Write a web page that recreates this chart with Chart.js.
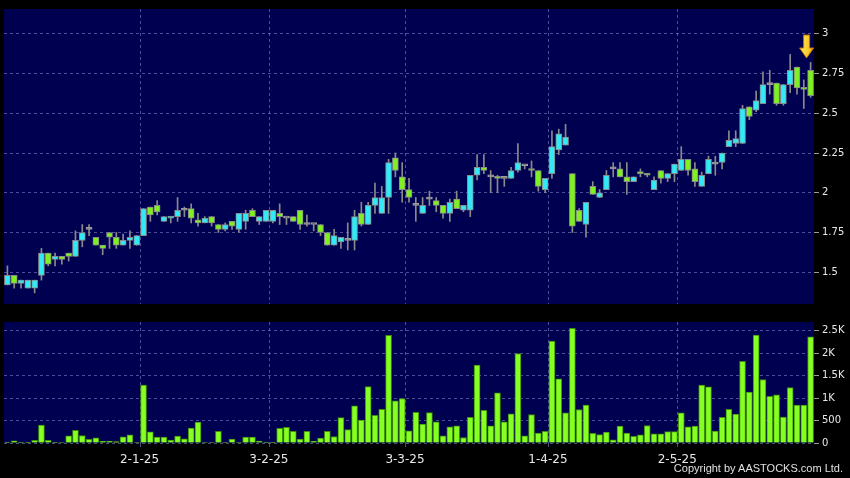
<!DOCTYPE html>
<html>
<head>
<meta charset="utf-8">
<script src="https://cdn.jsdelivr.net/npm/chart.js@4.4.1/dist/chart.umd.min.js"></script>
<style>
  body { margin:0; background:#000; width:850px; height:478px; overflow:hidden; position:relative; }
  #chart-price { position:absolute; left:0; top:0; }
  #chart-volume { position:absolute; left:0; top:313px; }
  #copy { position:absolute; right:7px; top:462px; font:11px 'Liberation Sans', sans-serif; color:#e0e0e0; }
</style>
</head>
<body>
<canvas id="chart-price" width="850" height="313"></canvas>
<canvas id="chart-volume" width="850" height="165"></canvas>
<div id="copy">Copyright by AASTOCKS.com Ltd.</div>
<script>
// trading days, 2-12-24 .. 30-5-25
const dates = [
  '2-12-24','3-12-24','4-12-24','5-12-24','6-12-24','9-12-24','10-12-24','11-12-24','12-12-24','13-12-24',
  '16-12-24','17-12-24','18-12-24','19-12-24','20-12-24','23-12-24','24-12-24','27-12-24','30-12-24','31-12-24',
  '2-1-25','3-1-25','6-1-25','7-1-25','8-1-25','9-1-25','10-1-25','13-1-25','14-1-25','15-1-25',
  '16-1-25','17-1-25','20-1-25','21-1-25','22-1-25','23-1-25','24-1-25','27-1-25','28-1-25',
  '3-2-25','4-2-25','5-2-25','6-2-25','7-2-25','10-2-25','11-2-25','12-2-25','13-2-25','14-2-25',
  '17-2-25','18-2-25','19-2-25','20-2-25','21-2-25','24-2-25','25-2-25','26-2-25','27-2-25','28-2-25',
  '3-3-25','4-3-25','5-3-25','6-3-25','7-3-25','10-3-25','11-3-25','12-3-25','13-3-25','14-3-25',
  '17-3-25','18-3-25','19-3-25','20-3-25','21-3-25','24-3-25','25-3-25','26-3-25','27-3-25','28-3-25','31-3-25',
  '1-4-25','2-4-25','3-4-25','7-4-25','8-4-25','9-4-25','10-4-25','11-4-25','14-4-25','15-4-25',
  '16-4-25','17-4-25','22-4-25','23-4-25','24-4-25','25-4-25','28-4-25','29-4-25','30-4-25',
  '2-5-25','6-5-25','7-5-25','8-5-25','9-5-25','12-5-25','13-5-25','14-5-25','15-5-25','16-5-25',
  '19-5-25','20-5-25','21-5-25','22-5-25','23-5-25','26-5-25','27-5-25','28-5-25','29-5-25','30-5-25'
];

const opens = [
  1.42,1.48,1.43,1.40,1.40,1.48,1.62,1.58,1.60,1.62, 1.60,1.70,1.77,1.72,1.67,1.75,1.72,1.67,1.70,1.67,
  1.73,1.91,1.92,1.82,1.84,1.85,1.89,1.90,1.83,1.81, 1.85,1.80,1.77,1.82,1.77,1.82,1.89,1.82,1.82,1.82,
  1.87,1.84,1.85,1.89,1.80,1.80,1.80,1.75,1.67,1.69, 1.70,1.70,1.87,1.80,1.92,1.87,1.97,2.22,2.10,2.02,
  1.92,1.87,1.96,1.95,1.92,1.87,1.96,1.89,1.89,2.11, 2.16,2.10,2.10,2.09,2.09,2.14,2.17,2.15,2.14,2.02,
  2.12,2.27,2.30,2.12,1.89,1.80,2.04,1.97,2.02,2.15, 2.15,2.10,2.07,2.13,2.12,2.02,2.14,2.09,2.12,2.14,
  2.21,2.15,2.04,2.12,2.18,2.19,2.29,2.31,2.31,2.54, 2.52,2.56,2.68,2.69,2.56,2.68,2.79,2.66,2.77
];
const highs = [
  1.54,1.48,1.45,1.45,1.45,1.65,1.62,1.62,1.60,1.62, 1.76,1.80,1.80,1.72,1.67,1.75,1.75,1.74,1.76,1.73,
  1.90,1.91,1.95,1.85,1.85,1.97,1.91,1.93,1.87,1.85, 1.85,1.80,1.81,1.82,1.87,1.89,1.90,1.85,1.89,1.89,
  1.93,1.84,1.85,1.89,1.86,1.80,1.80,1.75,1.77,1.72, 1.81,1.89,1.94,1.94,2.06,2.04,2.21,2.25,2.19,2.09,
  1.97,1.97,2.01,1.97,1.92,1.96,2.01,1.92,2.11,2.24, 2.24,2.14,2.11,2.09,2.16,2.31,2.17,2.20,2.14,2.09,
  2.39,2.40,2.43,2.12,1.90,1.94,2.07,2.02,2.14,2.19, 2.19,2.19,2.10,2.15,2.12,2.10,2.14,2.12,2.18,2.29,
  2.21,2.19,2.13,2.23,2.23,2.25,2.39,2.39,2.55,2.54, 2.64,2.76,2.77,2.69,2.68,2.87,2.79,2.71,2.82
];
const lows = [
  1.42,1.40,1.40,1.40,1.37,1.45,1.54,1.54,1.55,1.57, 1.60,1.66,1.73,1.67,1.61,1.65,1.65,1.67,1.65,1.67,
  1.73,1.82,1.86,1.82,1.81,1.82,1.85,1.81,1.79,1.81, 1.79,1.75,1.76,1.77,1.75,1.77,1.85,1.80,1.82,1.81,
  1.80,1.80,1.82,1.77,1.79,1.76,1.73,1.67,1.67,1.65, 1.64,1.64,1.79,1.80,1.87,1.87,1.87,2.10,1.94,1.94,
  1.82,1.87,1.92,1.88,1.84,1.82,1.90,1.88,1.85,2.08, 2.12,2.00,2.00,2.04,2.09,2.13,2.15,2.10,2.01,2.00,
  2.09,2.24,2.30,1.75,1.82,1.72,1.99,1.97,2.02,2.10, 2.10,1.99,2.07,2.10,2.10,2.02,2.06,2.07,2.07,2.14,
  2.11,2.04,2.04,2.12,2.11,2.15,2.29,2.29,2.31,2.46, 2.51,2.56,2.62,2.55,2.55,2.63,2.62,2.53,2.60
];
const closes = [
  1.48,1.43,1.45,1.45,1.45,1.62,1.55,1.60,1.58,1.60, 1.70,1.75,1.77,1.67,1.65,1.72,1.67,1.70,1.72,1.73,
  1.90,1.86,1.88,1.85,1.85,1.89,1.89,1.84,1.81,1.84, 1.81,1.77,1.80,1.79,1.87,1.87,1.85,1.85,1.89,1.89,
  1.85,1.84,1.82,1.80,1.80,1.80,1.75,1.67,1.73,1.72, 1.70,1.85,1.80,1.92,1.97,1.97,2.19,2.14,2.02,1.97,
  1.92,1.92,1.96,1.92,1.87,1.94,1.90,1.92,2.11,2.16, 2.14,2.10,2.09,2.09,2.14,2.19,2.17,2.14,2.04,2.09,
  2.29,2.37,2.35,1.79,1.82,1.94,1.99,2.00,2.11,2.15, 2.10,2.07,2.10,2.12,2.11,2.08,2.09,2.12,2.18,2.21,
  2.14,2.07,2.11,2.21,2.18,2.25,2.33,2.34,2.53,2.48, 2.58,2.68,2.68,2.56,2.68,2.77,2.66,2.65,2.61
];
const volumes = [
  20,50,22,5,58,400,58,8,10,160, 283,167,80,116,36,43,29,138,181,10,
  1290,246,130,130,65,152,94,333,464,10, 10,261,10,87,10,130,130,43,5,8,
  326,348,261,87,261,36,109,261,145,565, 297,826,507,1254,616,746,2391,935,985,270,
  684,418,677,468,158,360,382,122,569,1735, 727,382,1116,468,648,1987,158,634,223,259,
  2268,1426,670,2549,742,842,216,187,245,72, 374,223,151,180,389,202,202,252,252,670,
  360,374,1289,1246,266,569,749,641,1814,1130, 2398,1411,1037,1073,576,1231,842,842,2362
];

const dateTicks = ['2-1-25', '3-2-25', '3-3-25', '1-4-25', '2-5-25'];
const priceTicks = [1.5, 1.75, 2, 2.25, 2.5, 2.75, 3];
const priceLabels = ['1.5', '1.75', '2', '2.25', '2.5', '2.75', '3'];
const volTicks = [0, 500, 1000, 1500, 2000, 2500];
const volLabels = ['0', '500', '1K', '1.5K', '2K', '2.5K'];

const markIdx = dateTicks.map(d => dates.indexOf(d));
const upColor = '#33E9F5';
const downColor = '#7FF022';
const flatColor = '#9a9a9a';
const edgeColor = '#8a8a8a';
const gridColor = 'rgba(130,130,200,0.6)';
const labelColor = '#e8e8e8';

Chart.defaults.font.family = "'DejaVu Sans', sans-serif";

// navy plot area behind the grid
const panelBg = {
  id: 'panelBg',
  beforeDraw(chart) {
    const a = chart.chartArea;
    const ctx = chart.ctx;
    ctx.save();
    ctx.fillStyle = '#000050';
    ctx.fillRect(a.left, a.top, a.right - a.left, a.bottom - a.top);
    ctx.restore();
  }
};

// yellow marker above the last candle
const lastArrow = {
  id: 'lastArrow',
  afterDatasetsDraw(chart) {
    const ctx = chart.ctx;
    const x = chart.scales.x.getPixelForValue(dates.length - 1) - 4;
    const top = chart.chartArea.top + 26;
    ctx.save();
    const g = ctx.createLinearGradient(x - 7, 0, x + 7, 0);
    g.addColorStop(0, '#fff06a');
    g.addColorStop(1, '#f2b000');
    ctx.fillStyle = g;
    ctx.strokeStyle = '#c07000';
    ctx.lineWidth = 1;
    ctx.beginPath();
    ctx.moveTo(x - 3, top);
    ctx.lineTo(x + 3, top);
    ctx.lineTo(x + 3, top + 13);
    ctx.lineTo(x + 7, top + 13);
    ctx.lineTo(x, top + 23);
    ctx.lineTo(x - 7, top + 13);
    ctx.lineTo(x - 3, top + 13);
    ctx.closePath();
    ctx.fill();
    ctx.stroke();
    ctx.restore();
  }
};

const dateGrid = ctx => markIdx.includes(ctx.index) ? gridColor : 'transparent';

const bodyColors = opens.map((o, i) => closes[i] > o ? upColor : (closes[i] < o ? downColor : flatColor));

const chartPrice = document.getElementById('chart-price');

new Chart(chartPrice, {
  type: 'bar',
  data: {
    labels: dates,
    datasets: [{
      data: opens.map((o, i) => [Math.min(o, closes[i]), Math.max(o, closes[i])]),
      backgroundColor: bodyColors,
      borderColor: opens.map((o, i) => closes[i] === o ? flatColor : edgeColor),
      borderWidth: 1,
      borderSkipped: false,
      barThickness: 6,
      minBarLength: 2,
      grouped: false,
      order: 0
    }, {
      data: lows.map((l, i) => [l, highs[i]]),
      backgroundColor: edgeColor,
      barThickness: 1,
      grouped: false,
      order: 1
    }]
  },
  options: {
    responsive: false,
    animation: false,
    layout: { padding: { left: 4, top: 8, right: 0, bottom: 8 } },
    plugins: { legend: { display: false }, tooltip: { enabled: false } },
    scales: {
      x: {
        ticks: { display: false, autoSkip: false },
        grid: { offset: true, color: dateGrid, drawTicks: false },
        border: { display: false, dash: [3, 3] },
        afterFit: s => { s.height = 0; }
      },
      y: {
        position: 'right',
        min: 1.3,
        max: 3.156,
        afterBuildTicks: s => { s.ticks = priceTicks.map(v => ({ value: v })); },
        ticks: {
          color: labelColor,
          font: { size: 10 },
          padding: 3,
          callback: (v, i) => priceLabels[i]
        },
        grid: { color: gridColor, tickColor: '#9a9a9a', tickLength: 5 },
        border: { display: false, dash: [3, 3] },
        afterFit: s => { s.width = 36; }
      }
    }
  },
  plugins: [panelBg, lastArrow]
});

const chartVolume = document.getElementById('chart-volume');

new Chart(chartVolume, {
  type: 'bar',
  data: {
    labels: dates,
    datasets: [{
      data: volumes,
      backgroundColor: '#86FF22',
      borderColor: '#3f8f0a',
      borderWidth: 1,
      borderSkipped: 'start',
      barThickness: 6
    }]
  },
  options: {
    responsive: false,
    animation: false,
    layout: { padding: { left: 4, top: 6, right: 0, bottom: 0 } },
    plugins: { legend: { display: false }, tooltip: { enabled: false } },
    scales: {
      x: {
        ticks: {
          autoSkip: false,
          maxRotation: 0,
          color: labelColor,
          font: { size: 12 },
          padding: 6,
          labelOffset: -4,
          callback: (v, i) => markIdx.includes(i) ? dates[i] : ''
        },
        grid: { offset: true, color: dateGrid, tickColor: dateGrid, tickLength: 4 },
        border: { display: false, dash: [3, 3] },
        afterFit: s => { s.height = 35; }
      },
      y: {
        position: 'right',
        min: 0,
        max: 2690,
        afterBuildTicks: s => { s.ticks = volTicks.map(v => ({ value: v })); },
        ticks: {
          color: labelColor,
          font: { size: 10 },
          padding: 3,
          callback: (v, i) => volLabels[i]
        },
        grid: { color: gridColor, tickColor: '#9a9a9a', tickLength: 5 },
        border: { display: false, dash: [3, 3] },
        afterFit: s => { s.width = 36; }
      }
    }
  },
  plugins: [panelBg]
});
</script>
</body>
</html>
